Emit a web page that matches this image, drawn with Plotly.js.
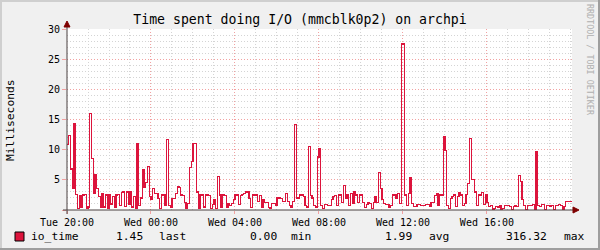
<!DOCTYPE html>
<html><head><meta charset="utf-8">
<script src="https://cdn.plot.ly/plotly-3.0.1.min.js"></script>
<style>html,body{margin:0;padding:0;background:#F0F0F0}#chart{width:600px;height:250px}
.scatterlayer .js-line{shape-rendering:crispEdges}</style>
</head><body><div id="chart"></div>
<script>
// ---- data ----
const startUTC = Date.UTC(2024, 0, 2, 20, 0); // Tue 20:00
const stepMinutes = 5;
const endMinutes = 24 * 60 + 3;
const ioTime = [
  10.9, 12.4, 6.8, 3.6, 14.4, 2.6, 0.3, 2.4, 0.5, 2.5, 2.6, 0.3,
  0.5, 16.0, 8.6, 2.8, 5.9, 3.6, 2.2, 0.4, 2.7, 0.5, 2.5, 0.3,
  2.5, 1.0, 2.3, 0.4, 2.5, 2.6, 0.8, 2.9, 3.1, 0.6, 3.0, 1.0,
  3.0, 0.5, 2.2, 0.3, 11.0, 0.8, 2.0, 6.7, 3.7, 4.5, 7.2, 2.2,
  1.7, 3.5, 2.8, 2.8, 1.9, 0.3, 2.5, 2.6, 0.8, 11.7, 0.8, 0.5,
  1.9, 1.9, 2.8, 3.9, 3.7, 2.5, 2.4, 1.2, 0.3, 1.1, 7.0, 8.0,
  11.0, 11.0, 3.0, 0.3, 2.5, 2.5, 0.5, 2.5, 2.5, 2.4, 0.2, 0.9,
  1.8, 0.3, 5.6, 2.5, 0.5, 2.5, 2.4, 0.5, 1.1, 0.8, 1.1, 1.7,
  2.5, 2.5, 0.9, 2.4, 2.6, 2.8, 3.0, 3.1, 1.9, 0.4, 2.5, 2.4,
  2.5, 1.4, 2.4, 0.5, 1.7, 1.3, 1.3, 0.4, 0.3, 1.1, 1.1, 0.7,
  2.0, 2.0, 1.9, 1.4, 1.4, 2.8, 1.4, 0.8, 0.5, 1.4, 14.2, 1.9,
  2.0, 2.5, 2.5, 2.2, 0.8, 0.5, 10.5, 2.4, 2.0, 0.8, 0.5, 8.8,
  10.1, 0.7, 0.2, 0.9, 0.9, 0.8, 0.8, 1.7, 2.2, 2.4, 0.8, 2.5,
  2.5, 1.3, 4.0, 2.0, 2.5, 0.8, 2.8, 1.1, 3.1, 2.5, 1.3, 2.6,
  2.5, 1.3, 0.4, 0.9, 1.3, 1.1, 0.2, 1.3, 2.3, 1.3, 6.2, 3.5,
  1.8, 1.1, 0.9, 0.9, 0.5, 0.8, 2.5, 2.5, 2.0, 2.8, 1.1, 27.5,
  27.5, 2.5, 0.8, 2.8, 5.3, 1.1, 0.6, 0.6, 0.9, 0.9, 0.8, 0.7,
  0.8, 0.9, 0.9, 0.6, 1.3, 1.3, 2.4, 2.8, 0.8, 2.5, 2.5, 12.2,
  9.8, 0.8, 0.3, 1.9, 2.2, 2.5, 0.6, 2.2, 2.9, 2.5, 0.8, 1.1,
  2.6, 4.4, 11.8, 5.1, 5.1, 3.0, 0.8, 2.5, 2.4, 2.9, 0.9, 2.5,
  1.3, 0.6, 0.7, 0.1, 0.3, 0.6, 0.5, 0.7, 0.1, 0.3, 0.7, 0.7,
  0.7, 0.6, 0.1, 0.6, 0.7, 0.6, 5.7, 4.7, 1.8, 0.7, 0.1, 0.8,
  0.7, 0.7, 0.9, 0.1, 9.6, 0.7, 0.6, 0.9, 0.9, 0.1, 0.7, 0.8,
  0.6, 0.8, 0.1, 0.7, 0.7, 0.9, 0.8, 0.1, 0.6, 1.45, 1.45, 1.45
];
const xTickVals = ['2024-01-02 20:00', '2024-01-03 00:00', '2024-01-03 04:00', '2024-01-03 08:00', '2024-01-03 12:00', '2024-01-03 16:00'];
const xTickText = ['Tue 20:00', 'Wed 00:00', 'Wed 04:00', 'Wed 08:00', 'Wed 12:00', 'Wed 16:00'];
const yTickVals = [0, 5, 10, 15, 20, 25, 30];
const yTickText = ['', '5', '10', '15', '20', '25', '30'];
const titleText = 'Time spent doing I/O (mmcblk0p2) on archpi';
const yLabel = 'Milliseconds';
const seriesName = 'io_time';
const statValues = ['1.45', '0.00', '1.99', '316.32'];
const statNames = ['last', 'min', 'avg', 'max'];
const watermark = 'RRDTOOL / TOBI OETIKER';

// ---- build ----
const fmt = ms => new Date(ms).toISOString().slice(0, 19).replace('T', ' ');
const xs = ioTime.map((v, i) => fmt(startUTC + i * stepMinutes * 60000));
const endTime = fmt(startUTC + endMinutes * 60000);
xs.push(endTime);
const ys = ioTime.concat([ioTime[ioTime.length - 1]]);

const L = 67, R = 572, T = 29, B = 210;
const PX = x => (x - L) / (R - L);
const PY = y => (B - y) / (B - T);
const MONO = 'DejaVu Sans Mono';
const RED = '#DC143C';
const MAJ = '#F2A2A2', MIN = '#D4D4D4';

const numRight = [143.5, 278, 413, 548];
const nameLeft = [158, 290, 428, 563];
const annotations = [
  {text: yLabel, x: PX(11), y: PY(120), xref: 'paper', yref: 'paper', showarrow: false, textangle: -90,
   xanchor: 'center', yanchor: 'middle', font: {family: MONO, size: 11.3, color: '#000'}},
  {text: watermark, x: PX(590), y: PY(60), xref: 'paper', yref: 'paper', showarrow: false, textangle: 90,
   xanchor: 'center', yanchor: 'middle', font: {family: MONO, size: 8.4, color: '#AFAFAF'}},
  {text: seriesName, x: PX(29), y: PY(236.5), xref: 'paper', yref: 'paper', showarrow: false,
   xanchor: 'left', yanchor: 'middle', font: {family: MONO, size: 11.3, color: '#000'}}
];
statValues.forEach((v, i) => {
  annotations.push({text: v, x: PX(numRight[i] + 1), y: PY(236.5), xref: 'paper', yref: 'paper', showarrow: false,
    xanchor: 'right', yanchor: 'middle', font: {family: MONO, size: 11.3, color: '#000'}});
  annotations.push({text: statNames[i], x: PX(nameLeft[i] - 1), y: PY(236.5), xref: 'paper', yref: 'paper', showarrow: false,
    xanchor: 'left', yanchor: 'middle', font: {family: MONO, size: 11.3, color: '#000'}});
});

const line = (x0, y0, x1, y1, color, w) => ({type: 'line', xref: 'paper', yref: 'paper',
  x0: PX(x0), y0: PY(y0), x1: PX(x1), y1: PY(y1), line: {color: color, width: w}});
const tri = (pts, color) => ({type: 'path', xref: 'paper', yref: 'paper',
  path: 'M' + pts.map(p => PX(p[0]) + ',' + PY(p[1])).join(' L') + ' Z',
  fillcolor: color, line: {color: color, width: 1}});

const shapes = [
  line(0, 1, 600, 1, '#CFCFCF', 2),
  line(1, 0, 1, 250, '#CFCFCF', 2),
  line(0, 249, 600, 249, '#9E9E9E', 2),
  line(599, 0, 599, 250, '#9E9E9E', 2),
  line(63, 210, 573, 210, '#4A4040', 1),
  line(67, 214, 67, 23, '#4A4040', 1),
  tri([[67, 21], [64, 27], [70, 27]], '#7F0000'),
  tri([[579, 210], [573, 207], [573, 213]], '#7F0000'),
  {type: 'rect', xref: 'paper', yref: 'paper', x0: PX(15), x1: PX(24), y0: PY(232), y1: PY(241),
   fillcolor: RED, line: {color: '#000', width: 1}}
];

const trace = {x: xs, y: ys, type: 'scatter', mode: 'lines', name: seriesName,
  line: {shape: 'hv', color: RED, width: 1.2}, hoverinfo: 'skip'};

const layout = {
  width: 600, height: 250,
  margin: {l: L, r: 600 - R, t: T, b: 250 - B, pad: 0},
  paper_bgcolor: '#F0F0F0', plot_bgcolor: '#FFFFFF',
  showlegend: false,
  title: {text: titleText, x: 0.5, xref: 'container', xanchor: 'center', y: 1 - 19 / 250, yref: 'container', yanchor: 'middle',
    font: {family: MONO, size: 13.2, color: '#000'}},
  xaxis: {type: 'date', range: [xs[0], endTime], tickmode: 'array', tickvals: xTickVals, ticktext: xTickText,
    showgrid: true, gridcolor: MAJ, griddash: '1px,2px', gridwidth: 1, zeroline: false, showline: false,
    ticks: 'outside', ticklen: 3, tickcolor: MAJ,
    tickfont: {family: MONO, size: 10, color: '#000'},
    minor: {tickmode: 'linear', tick0: xTickVals[0], dtick: 3600000, showgrid: true, gridcolor: MIN, griddash: '1px,2px', ticks: ''}},
  yaxis: {range: [0, 30], tickmode: 'array', tickvals: yTickVals, ticktext: yTickText,
    showgrid: true, gridcolor: MAJ, griddash: '1px,2px', gridwidth: 1, zeroline: false, showline: false,
    ticks: 'outside', ticklen: 4, tickcolor: MAJ,
    tickfont: {family: MONO, size: 10, color: '#000'},
    minor: {tickmode: 'linear', tick0: 0, dtick: 1, showgrid: true, gridcolor: MIN, griddash: '1px,2px', ticks: ''}},
  annotations: annotations,
  shapes: shapes
};

Plotly.newPlot('chart', [trace], layout, {staticPlot: true, displayModeBar: false});
</script>
</body></html>
